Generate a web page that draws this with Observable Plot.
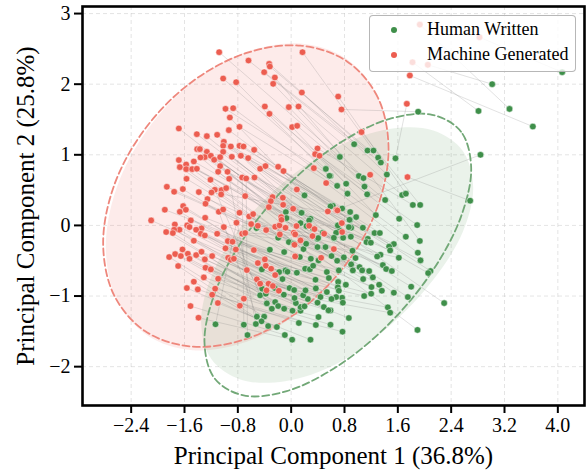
<!DOCTYPE html>
<html><head><meta charset="utf-8">
<style>
html,body{margin:0;padding:0;background:#fff}
#wrap{position:relative;width:586px;height:471px;overflow:hidden}
#legend{position:absolute;left:369px;top:15px;width:205px;height:55px;border:1px solid rgba(170,170,170,.85);border-radius:4px;background:rgba(255,255,255,.8);font-family:"Liberation Serif",serif;font-size:18px;color:#000}
#legend div{position:absolute;left:57px;white-space:nowrap;line-height:20px}
#legend i{position:absolute;left:-36px;top:8px;width:6px;height:6px;border-radius:50%}
</style>
<script src="https://cdn.jsdelivr.net/npm/d3@7"></script>
<script src="https://cdn.jsdelivr.net/npm/@observablehq/plot@0.6"></script>
</head><body><div id="wrap"></div>
<script>
const xTicks=[-2.4,-1.6,-0.8,0,0.8,1.6,2.4,3.2,4.0];
const yTicks=[-2,-1,0,1,2,3];
const xDomain=[-3.13,4.40];
const yDomain=[-2.55,3.10];
const xLabel="Principal Component 1 (36.8%)";
const yLabel="Principal Component 2 (25.8%)";
const seriesNames=["Human Written","Machine Generated"];
const humanColor="#3f8f4a", machineColor="#ec5d50";

// first pinnedPairs entries of both lists are the visibly linked outliers
const pinnedPairs=9;
const humanPts=[[1.905,1.61],[1.565,.95],[2.81,1.62],[3.275,1.65],[4.065,2.17],[3.015,2],[3.625,1.4],[2.685,.35],[2.84,1],
[.945,1.15],[.73,.97],[1.145,1.06],[1.235,1.06],[1.305,.96],[1.345,.89],[1.435,.72],[1.015,.7],[1.085,.67],[1.1,.55],[.59,.7],[.69,.56],[.825,.59],[.845,.45],[1.14,.44],[1.41,.36],[1.665,.43],[1.72,.45],[1.825,.29],[1.935,.29],[.625,.278],[.59,.269],[.765,.24],
[1.27,.146],[1.62,.094],[.885,.19],[.975,.118],[.885,.075],[.9,-.033],[1.075,-.033],[1.89,.005],[1.25,-.108],[1.33,-.108],[1.72,-.16],[.895,-.16],[.775,-.175],[.645,-.184],[1.93,-.22],[1.15,-.19],[1.13,-.236],[1.195,-.245],[1.54,-.264],[1.47,-.3],[1.485,-.354],[1.9,-.387],[1.34,-.415],[1.29,-.44],[1.615,-.458],[.92,-.358],[.79,-.453],[.965,-.462],[.605,-.434],[.69,-.5],[1.94,-.495],[.9,-.552],[1.375,-.561],[1.425,-.618],[1.51,-.646],[2.09,-.646],[2.055,-.675],[1.025,-.59],[1.065,-.637],[1.17,-.646],[.925,-.637],[.715,-.637],[1.225,-.736],[1.08,-.76],[1.32,-.84],[1.205,-.873],[1.8,-.868],[1.36,-.925],[1.54,-.953],[1.2,-.967],[1.095,-1],[1.75,-1.014],[2.295,-1.1],[.82,-.84],[.705,-.8],[.7,-.877],[.715,-.925],[.765,-1.024],[.675,-1.014],[.605,-1.042],[.775,-1.094],[1.45,-1.16],[1.485,-1.236],[.865,-1.311],[.59,-1.406],[.77,-1.505],[1.895,-1.48],[.59,-1.203],
[-1.135,-1.4],[-.71,-1.406],[-.655,-1.552],[-.515,-1.292],[-.405,-1.292],[-.445,-1.358],[-.53,-1.396],[-.345,-1.425],[-.215,-1.439],[-.095,-1.552],[.015,-1.618],[.115,-1.382],[.29,-1.618],[.37,-1.41],[.41,-1.297],[-.365,-1.104],[-.29,-1.18],[-.24,-1.085],[-.195,-1.142],[-.105,-1.18],[.02,-1.208],[.14,-1.208],[.14,-1.156],[.2,-1.146],[.07,-1.1],[.05,-1.028],[.25,-1.042],[.18,-.99],[.44,-1.014],[.395,-1.094],[.49,-1.156],[.56,-1.203],[-.11,-.981],[-.465,-.99],[-.245,-.887],[-.435,-.896],[-.38,-.967],[-.025,-.887],[.045,-.915],[.215,-.92],[.37,-.892],[.535,-.943],[.365,-.769],[.535,-.66],[.565,-.745],[-.13,-.76],[-.085,-.637],[-.055,-.656],[-.18,-.66],[.085,-.67],[.21,-.613],[.28,-.623],[.33,-.571],[-.44,-.623],[.295,-.472],[.41,-.495],[.13,-.448],[-.32,-.344],[-.105,-.377],[-.035,-.236],[.185,-.335],[.225,-.26],[.395,-.307],[.395,-.193],[.475,-.104],[.515,-.307],[-.08,.189],[-.09,.099],[.16,.175],[.14,.033],[.29,.094],[.33,-.047],[-.52,-.038],[.04,-.26],[-.185,-.156],
[.52,.8],[.575,.703],[.2,.425],[.875,.08],[.865,-.024],[.725,-.07],[.7,0],[.675,-.104],[.78,-.175],[.64,-.175],[.405,-.179],[-.195,-.175],[.23,-.01],[.27,.07],[-.07,.104],[.155,.179]];
const machinePts=[[.755,1.642],[1.735,1.722],[1.82,2.311],[1.93,2.844],[2.825,2.665],[2.05,2.274],[1.78,2.123],[1.745,.684],[.68,.22],
[.705,1.825],[1.055,1.321],[1.185,.717],[-1.08,2.453],[.17,2.453],[-.64,2.335],[-.33,2.288],[-.32,2.25],[-.405,2.17],[-.245,2.094],[-.27,2.005],[-1.02,2.08],[-.825,2.028],[.16,1.882],[-.395,1.684],[-.035,1.675],[.11,1.684],[-.985,1.651],[-.87,1.66],[-.92,1.528],[-.325,1.58],[.015,1.392],[.09,1.41],[-1.685,1.373],[-.935,1.349],[-.775,1.396],[-1.415,1.292],[-1.265,1.264],[-1.11,1.283],[-1.01,1.184],[-1.02,1.127],[-.905,1.118],[-.775,1.127],[-.715,1.118],[-.555,1.07],[-1.41,1.08],[-1.37,1.08],[-1.265,1.042],[-1.02,1.042],[.395,1.09],[.36,1.009],[.425,.986],[-1.295,.967],[-1.205,.986],[-1.36,.962],[-1.155,.929],[-1.065,.967],[-.89,.972],[-.755,.986],[-.645,.953],[-1.685,.925],[-1.46,.906],[-1.67,.825],[-1.575,.863],[-1.575,.797],[-1.485,.797],[-1.415,.802],[-1.065,.84],[-1.095,.759],[-.955,.759],[-.465,.802],[-.385,.84],[-.195,.83],[-.115,.769],[.34,.811],[.525,.6],[-.735,.679],[-.675,.665],[-.55,.679],[-.93,.66],[-1.21,.646],[-1.57,.66],[-1.865,.547],[-1.755,.476],[-1.625,.514],[-1.385,.472],[-1.145,.505],[-1.045,.5],[-.975,.528],[-1.195,.467],[-1.05,.439],[-.69,.415],[.085,.509],[-.28,.401],[-.125,.392],[-.305,.344],[-.12,.292],[-.335,.259],[.03,.236],[-1.255,.373],
[-1.895,.222],[-2.1,.071],[-1.62,.274],[-1.67,.193],[-1.58,.222],[-1.29,.108],[-1.285,.307],[-1.085,.193],[-1.02,.226],[-.775,.179],[-.63,.127],[-.57,.16],[-1.505,.071],[-1.745,.014],[-1.56,0],[-1.525,-.024],[-1.345,-.042],[-1.425,-.061],[-1.675,-.061],[-1.755,-.061],[-1.875,-.094],[-1.775,-.108],[-1.355,-.118],[-1.295,-.142],[-1.11,-.118],[-1.01,-.024],[-.82,.038],[-.6,.019],[-.5,-.005],[-.375,-.066],[-.24,-.019],[-.175,0],[-.085,-.033],[.08,-.009],[.27,-.005],[.04,-.104],[.06,-.127],[-.17,-.127],[.32,-.151],[.05,-.274],[.14,-.212],[-.735,-.118],[-.69,-.108],[-1.46,-.217],[-.95,-.222],[-.88,-.231],[-.985,-.325],[-.83,-.34],[-.56,-.349],[-1.63,-.34],[-1.74,-.406],[-1.655,-.434],[-1.55,-.401],[-1.425,-.42],[-1.345,-.373],[-1.185,-.434],[-1.525,-.472],[-1.83,-.448],[-1.295,-.481],[-.945,-.458],[-.905,-.486],[-.86,-.472],[-1.695,-.575],[-1.285,-.599],[-1.205,-.623],[-.395,-.481],[-.5,-.533],[-.38,-.571],[-.3,-.613],[-.665,-.632],[-.24,-.703],[.06,-.439],[.45,-.458],[-1.31,-.736],[-1.095,-.755],[-1.46,-.797],[-1.565,-.887],[-1.4,-.906],[-1.14,-.896],[-1.185,-.981],[-.515,-.764],[-.465,-.825],[-.34,-.825],[-.275,-.858],[-.37,-.92],[-.185,-.925],[-.71,-1.038],[-1.1,-1.099],[-.77,-1.137],[-1.51,-1.142],[-1.39,-1.307],
[.55,.198],[-.15,.118],[.695,.212],[.76,.033],[.765,-.094],[.64,-.335],[-.145,.08],[.35,-.052],[.495,-.118]];

// outline points
const machineDash=[[1.46,1.094],[1.297,1.817],[.833,2.326],[.14,2.545],[-.68,2.439],[-1.5,2.025],[-2.193,1.366],[-2.657,.563],[-2.82,-.264],[-2.657,-.987],[-2.193,-1.496],[-1.5,-1.715],[-.68,-1.609],[.14,-1.195],[.833,-.536],[1.297,.267]];
const machineFill=[[1.44,1.123],[1.28,1.854],[.822,2.364],[.138,2.577],[-.67,2.458],[-1.478,2.027],[-2.162,1.348],[-2.62,.528],[-2.78,-.313],[-2.62,-1.044],[-2.162,-1.554],[-1.478,-1.767],[-.67,-1.648],[.138,-1.217],[.822,-.538],[1.28,.282]];
const humanDash=[[2.7,.82],[2.548,1.327],[2.114,1.567],[1.466,1.506],[.7,1.15],[-.066,.556],[-.714,-.187],[-1.148,-.965],[-1.3,-1.66],[-1.148,-2.167],[-.714,-2.407],[-.066,-2.346],[.7,-1.99],[1.466,-1.396],[2.114,-.653],[2.548,.125]];
const humanFill=[[2.73,.54],[2.575,1.055],[2.132,1.344],[1.471,1.366],[.69,1.115],[-.091,.63],[-.752,-.014],[-1.195,-.719],[-1.35,-1.38],[-1.195,-1.895],[-.752,-2.184],[-.091,-2.206],[.69,-1.955],[1.48,-1.42],[2.14,-.76],[2.58,-.08]];

// link each machine point to its human counterpart
function buildLinks(){
  const links=[];
  for(let i=0;i<pinnedPairs;i++) links.push({x1:machinePts[i][0],y1:machinePts[i][1],x2:humanPts[i][0],y2:humanPts[i][1]});
  const restM=machinePts.slice(pinnedPairs), used=new Set();
  const restH=humanPts.slice(pinnedPairs);
  const mx=d3.mean(restM,d=>d[0]),my=d3.mean(restM,d=>d[1]);
  const hx=d3.mean(restH,d=>d[0]),hy=d3.mean(restH,d=>d[1]);
  const sx=hx-mx,sy=hy-my;
  restM.sort((a,b)=>Math.hypot(b[0]-mx,b[1]-my)-Math.hypot(a[0]-mx,a[1]-my));
  for(const m of restM){
    let best=-1,bd=Infinity;
    restH.forEach((h,j)=>{if(used.has(j))return;const d=Math.hypot(h[0]-m[0]-sx,h[1]-m[1]-sy);if(d<bd){bd=d;best=j;}});
    if(best<0)break;
    used.add(best);
    links.push({x1:m[0],y1:m[1],x2:restH[best][0],y2:restH[best][1]});
  }
  return links;
}
const fmtY=d=>(d<0?"\u2212":"")+Math.abs(d);
const fmtX=d=>(d<0?"\u2212":"")+Math.abs(d).toFixed(1);
const px=d=>d[0],py=d=>d[1];
const chart=Plot.plot({
  width:586,height:471,marginLeft:82,marginRight:2,marginTop:6,marginBottom:66,
  style:{fontFamily:'"Liberation Serif",serif',background:"#fff",color:"#000"},
  x:{domain:xDomain},y:{domain:yDomain},
  marks:[
    Plot.gridX(xTicks,{stroke:"#bbb",strokeOpacity:.4,strokeDasharray:"4 3"}),
    Plot.gridY(yTicks,{stroke:"#bbb",strokeOpacity:.4,strokeDasharray:"4 3"}),
    Plot.line(machineFill,{x:px,y:py,curve:"catmull-rom-closed",fill:machineColor,fillOpacity:.12,stroke:"none"}),
    Plot.line(humanFill,{x:px,y:py,curve:"catmull-rom-closed",fill:"#2e7d32",fillOpacity:.1,stroke:"none"}),
    Plot.link(buildLinks(),{x1:"x1",y1:"y1",x2:"x2",y2:"y2",stroke:"#777",strokeOpacity:.24,strokeWidth:.9}),
    Plot.line(machineDash,{x:px,y:py,curve:"catmull-rom-closed",stroke:"#ee877c",strokeWidth:1.8,strokeDasharray:"7 3.5"}),
    Plot.line(humanDash,{x:px,y:py,curve:"catmull-rom-closed",stroke:"#72a877",strokeWidth:1.8,strokeDasharray:"7 3.5"}),
    Plot.dot(humanPts,{x:px,y:py,r:3.3,fill:humanColor,stroke:"#fff",strokeWidth:.7,strokeOpacity:.7}),
    Plot.dot(machinePts,{x:px,y:py,r:3.3,fill:machineColor,stroke:"#fff",strokeWidth:.7,strokeOpacity:.7}),
    Plot.frame({stroke:"#000",strokeWidth:2.6}),
    Plot.axisX(xTicks,{tickSize:8,tickPadding:4,tickFormat:fmtX,fontSize:20,strokeWidth:2,label:null}),
    Plot.axisY(yTicks,{tickSize:8,tickPadding:4,tickFormat:fmtY,fontSize:20,strokeWidth:2,label:null}),
    Plot.axisX([],{label:xLabel,labelArrow:"none",labelAnchor:"center",labelOffset:58,fontSize:25,tickSize:0}),
    Plot.axisY([],{label:yLabel,labelArrow:"none",labelAnchor:"center",labelOffset:66,fontSize:25,tickSize:0})
  ]
});
const wrap=document.getElementById("wrap");
wrap.appendChild(chart);
const lg=document.createElement("div");lg.id="legend";
[[seriesNames[0],humanColor,3],[seriesNames[1],machineColor,28]].forEach(([t,c,top])=>{
  const row=document.createElement("div");row.style.top=top+"px";
  const m=document.createElement("i");m.style.background=c;row.appendChild(m);
  row.appendChild(document.createTextNode(t));lg.appendChild(row);
});
wrap.appendChild(lg);
</script></body></html>
